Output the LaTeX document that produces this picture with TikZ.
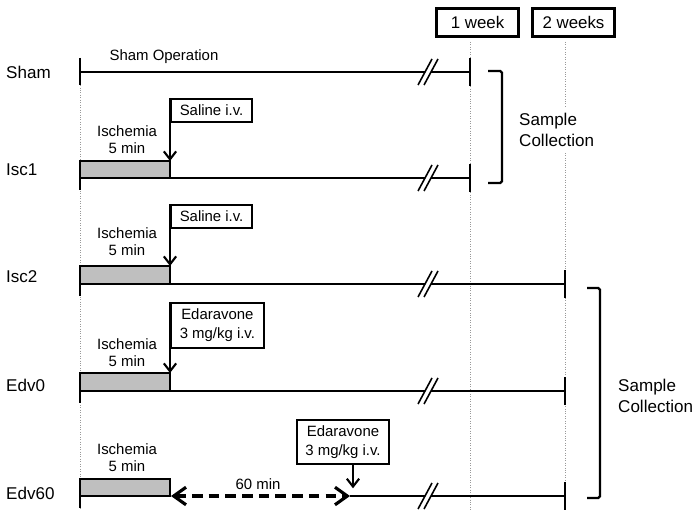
\documentclass[tikz,border=0pt]{standalone}
\usepackage{fontspec}
\setmainfont{Liberation Sans}
\usetikzlibrary{arrows.meta}
\begin{document}
\begin{tikzpicture}[x=0.02cm, y=-0.02cm, %1 unidade = 1 pixel
	linha/.style={line width=1.4pt},
	guia/.style={densely dotted, gray!80, line width=0.4pt},
	seta/.style={line width=1.2pt, -{Straight Barb[length=4.5pt,width=7pt]}},
	tracejada/.style={line width=1.8pt, dash pattern=on 6pt off 3.5pt, {Straight Barb[length=7pt,width=10pt]}-{Straight Barb[length=7pt,width=10pt]}},
	grupo/.style={font=\fontsize{9.7}{12}\selectfont},
	texto/.style={font=\fontsize{8.5}{9.7}\selectfont, align=center},
	caixa/.style={draw, line width=1.1pt, font=\fontsize{8.5}{10.5}\selectfont, align=center, inner xsep=5pt, inner ysep=3.5pt},
	semana/.style={draw, line width=2.2pt, font=\fontsize{9.6}{11}\selectfont, minimum width=1.64cm, minimum height=0.56cm},
	isquemia/.style={fill=gray!50, draw, line width=0.8pt},
	quebra/.pic={\fill[white] (-10,13) -- (4,-13) -- (10,-13) -- (-4,13) -- cycle;
		\draw[line width=0.9pt] (-10,13) -- (4,-13) (-4,13) -- (10,-13);}
	]
	\useasboundingbox (0,0) rectangle (699,520);
		%Guias
	\draw[guia] (80,58) -- (80,510);
	\draw[guia] (470,42) -- (470,510);
	\draw[guia] (565,42) -- (565,510);
	\node[semana] (w1) at (477.5,22.5) {1 week};
	\node[semana] (w2) at (573.5,22.5) {2 weeks};
		%Grupos
	\node[grupo, anchor=west] (sham) at (0,72) {Sham};
	\node[grupo, anchor=west] (isc1) at (0,170) {Isc1};
	\node[grupo, anchor=west] (isc2) at (0,277) {Isc2};
	\node[grupo, anchor=west] (edv0) at (0,385) {Edv0};
	\node[grupo, anchor=west] (edv60) at (0,493) {Edv60};
		%Sham
	\draw[linha] (80,72) -- (470,72);
	\draw[linha] (80,58) -- (80,85);
	\draw[linha] (470,58) -- (470,86);
	\pic at (428,72) {quebra};
	\node[texto] (shamop) at (164,57) {Sham Operation};
		%Isc1
	\filldraw[isquemia] (80,161) rectangle (170,178);
	\draw[linha] (80,178) -- (470,178);
	\draw[linha] (80,161) -- (80,190);
	\draw[linha] (470,164) -- (470,192);
	\pic at (428,178) {quebra};
	\node[texto] (isq1) at (127,140) {Ischemia\\5 min};
	\node[caixa, anchor=north west] (sal1) at (170,98) {Saline i.v.};
	\coordinate (a1) at (170,161);
	\draw[seta] (sal1.north west) -- (a1);
		%Isc2
	\filldraw[isquemia] (80,266) rectangle (170,284);
	\draw[linha] (80,284) -- (565,284);
	\draw[linha] (80,266) -- (80,296);
	\draw[linha] (565,270) -- (565,298);
	\pic at (428,284) {quebra};
	\node[texto] (isq2) at (127,242) {Ischemia\\5 min};
	\node[caixa, anchor=north west] (sal2) at (170,204) {Saline i.v.};
	\coordinate (a2) at (170,266);
	\draw[seta] (sal2.north west) -- (a2);
		%Edv0
	\filldraw[isquemia] (80,373) rectangle (170,391);
	\draw[linha] (80,391) -- (565,391);
	\draw[linha] (80,373) -- (80,403);
	\draw[linha] (565,377) -- (565,405);
	\pic at (428,391) {quebra};
	\node[texto] (isq3) at (127,353) {Ischemia\\5 min};
	\node[caixa, anchor=north west] (edv1) at (170,302) {Edaravone\\3 mg/kg i.v.};
	\coordinate (a3) at (170,373);
	\draw[seta] (edv1.north west) -- (a3);
		%Edv60
	\filldraw[isquemia] (80,479) rectangle (170,496);
	\draw[linha] (80,479) -- (80,508);
	\draw[linha] (565,482) -- (565,510);
	\coordinate (d0) at (171,496);
	\coordinate (d1) at (350,496);
	\draw[tracejada] (d0) -- (d1);
	\draw[linha] (d1) -- (565,496);
	\pic at (428,496) {quebra};
	\node[texto] (isq4) at (127,458) {Ischemia\\5 min};
	\node[texto] (sessenta) at (258,484) {60 min};
	\node[caixa] (edv2) at (343,442) {Edaravone\\3 mg/kg i.v.};
	\draw[seta] ([xshift=0.2cm]edv2.south) -- ++(0,23);
		%Coleta
	\draw[linha, rounded corners=1pt] (488,71) -- (502,71) -- (502,183) -- (488,183);
	\node[grupo, anchor=west, align=left, fill=white] (col1) at (513,130) {Sample\\Collection};
	\draw[linha, rounded corners=1pt] (587,288) -- (600,288) -- (600,498) -- (587,498);
	\node[grupo, anchor=west, align=left, fill=white] (col2) at (612,396) {Sample\\Collection};
\end{tikzpicture}
\end{document}
